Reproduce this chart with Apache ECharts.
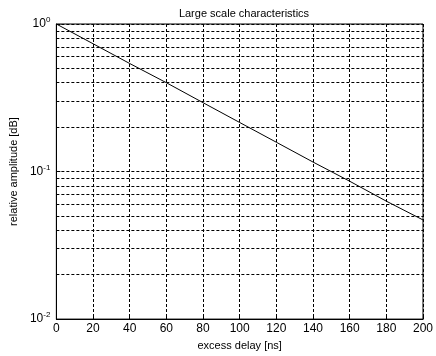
<!DOCTYPE html>
<html>
<head>
<meta charset="utf-8">
<script src="https://cdn.jsdelivr.net/npm/echarts@6/dist/echarts.min.js"></script>
<style>
  html, body { margin: 0; padding: 0; background: #fff; }
  #chart { width: 436px; height: 356px; }
</style>
</head>
<body>
<div id="chart"></div>
<script>
// excess delay [ns] and relative amplitude
const delays = [0, 20, 40, 60, 80, 100, 120, 140, 160, 180, 200];
const amplitudes = [1.0, 0.735, 0.54, 0.40, 0.293, 0.215, 0.158, 0.116, 0.086, 0.063, 0.047];
// log-scale minor grid positions
const minorGrid = [0.02, 0.03, 0.04, 0.05, 0.06, 0.07, 0.08, 0.09,
                   0.2, 0.3, 0.4, 0.5, 0.6, 0.7, 0.8, 0.9];

const font = 'Liberation Sans, Arial, sans-serif';
const dash = [3, 2];

const chart = echarts.init(document.getElementById('chart'));

chart.setOption({
  animation: false,
  title: {
    text: 'Large scale characteristics',
    left: 239, top: 3, textAlign: 'center',
    textStyle: { fontFamily: font, fontSize: 11, fontWeight: 'normal', color: '#000' }
  },
  grid: {
    left: 49, right: 8, top: 24, bottom: 33,
    show: true, borderColor: '#000', borderWidth: 1, backgroundColor: '#fff'
  },
  xAxis: {
    type: 'value',
    min: 0, max: 200, interval: 20,
    name: 'excess delay [ns]',
    nameLocation: 'middle', nameGap: 19,
    nameTextStyle: { fontFamily: font, fontSize: 11, color: '#000' },
    axisLine: { show: true, onZero: false, lineStyle: { color: '#000' } },
    axisTick: { inside: true, length: 4, lineStyle: { color: '#000' } },
    axisLabel: { fontFamily: font, fontSize: 12, color: '#000', margin: 4 },
    splitLine: { show: true, lineStyle: { color: '#000', type: dash, width: 1 } }
  },
  yAxis: {
    type: 'log', logBase: 10,
    min: 0.01, max: 1,
    name: 'relative amplitude [dB]',
    nameLocation: 'middle', nameGap: 32,
    nameTextStyle: { fontFamily: font, fontSize: 11, color: '#000' },
    axisLine: { show: true, lineStyle: { color: '#000' } },
    axisTick: { inside: true, length: 4, lineStyle: { color: '#000' } },
    axisLabel: {
      fontFamily: font, fontSize: 12, color: '#000', margin: 6,
      formatter: v => '10{sup|' + Math.round(Math.log10(v)) + '}',
      rich: { sup: { fontFamily: font, fontSize: 8, color: '#000', verticalAlign: 'top', padding: [0, 0, 8, 0] } }
    },
    splitLine: { show: true, lineStyle: { color: '#000', type: dash, width: 1 } }
  },
  series: [{
    type: 'line',
    data: delays.map((d, i) => [d, amplitudes[i]]),
    showSymbol: false,
    lineStyle: { color: '#000', width: 1 },
    markLine: {
      silent: true,
      symbol: 'none',
      label: { show: false },
      lineStyle: { color: '#000', type: dash, width: 1 },
      data: minorGrid.map(v => ({ yAxis: v }))
    }
  }]
});
</script>
</body>
</html>
